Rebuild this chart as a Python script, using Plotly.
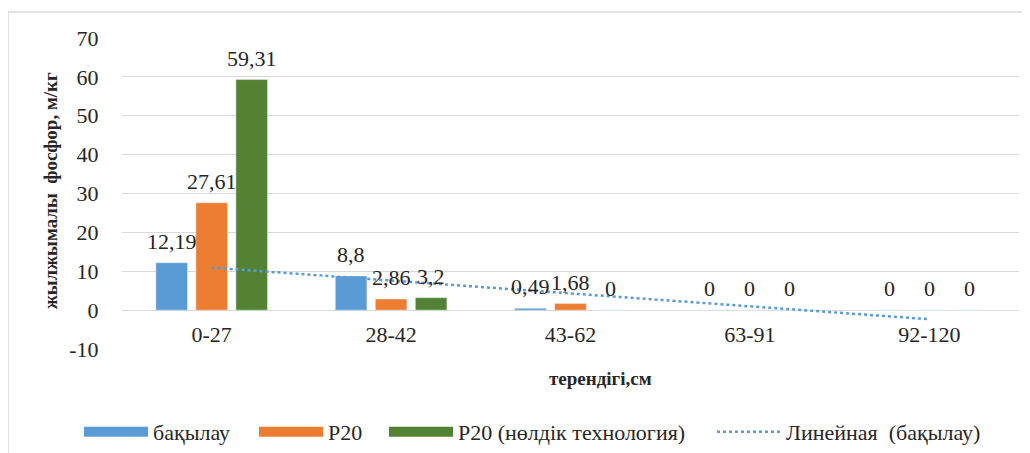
import numpy as np
import plotly.graph_objects as go

categories = ["0-27", "28-42", "43-62", "63-91", "92-120"]
bakylau = [12.19, 8.8, 0.49, 0, 0]
p20 = [27.61, 2.86, 1.68, 0, 0]
p20_zero = [59.31, 3.2, 0, 0, 0]
series_names = ["бақылау", "P20", "P20 (нөлдік технология)"]
trend_name = "Линейная  (бақылау)"
colors = ["#5b9bd5", "#ed7d31", "#548235"]
y_ticks = [-10, 0, 10, 20, 30, 40, 50, 60, 70]
y_ticktext = ["-10", "0", "10", "20", "30", "40", "50", "60", "70"]
y_title = "жылжымалы  фосфор, м/кг"
x_title = "терендігі,см"

OFF = 8  # page body margin
W, H = 1030 - OFF, 453 - OFF
ML, MT = 122 - OFF, 38 - OFF
MR = W - (1019 - OFF)
MB = H - (349 - OFF)
PW = W - ML - MR
PH = H - MT - MB
BARGAP = 0.331
FONT = "Liberation Serif, Times New Roman, serif"
TXT = "#262626"


def px(xs):
    return (xs - OFF - ML) / PW


def py(ys):
    return (MT + PH - (ys - OFF)) / PH


def fmt(v):
    return ("%g" % v).replace(".", ",")


fig = go.Figure()
all_series = [bakylau, p20, p20_zero]
for name, vals, col in zip(series_names, all_series, colors):
    fig.add_trace(go.Bar(x=categories, y=vals, name=name, marker_color=col,
                         showlegend=False))

# linear trend of the control series
xs = np.arange(1, len(categories) + 1)
k, b = np.polyfit(xs, bakylau, 1)
trend = k * xs + b
fig.add_trace(go.Scatter(x=categories, y=trend, mode="lines", showlegend=False,
                         line=dict(color="#5b9bd5", width=2.5, dash="dot")))

# legend entries, each in its own legend box
legend_ids = ["legend", "legend2", "legend3", "legend4"]
legend_x = [85, 260, 390, 718]
for name, col, lid in zip(series_names, colors, legend_ids[:3]):
    fig.add_trace(go.Scatter(x=[None], y=[None], mode="lines", name=name, legend=lid,
                             line=dict(color=col, width=10)))
fig.add_trace(go.Scatter(x=[None], y=[None], mode="lines", name=trend_name,
                         legend=legend_ids[3],
                         line=dict(color="#5b9bd5", width=2.5, dash="dot")))

# data labels
slot = PW / len(categories) * (1 - BARGAP) / 3
anns = []
for i, vals in enumerate(all_series):
    for c, v in zip(categories, vals):
        anns.append(dict(x=c, y=v, xref="x", yref="y", text=fmt(v), showarrow=False,
                         xshift=(i - 1) * slot, yshift=7, yanchor="bottom",
                         xanchor="center",
                         font=dict(family=FONT, size=22, color=TXT)))
anns.append(dict(x=px(600), y=py(378), xref="paper", yref="paper",
                 text="<b>" + x_title + "</b>", showarrow=False,
                 xanchor="center", yanchor="middle",
                 font=dict(family=FONT, size=19, color=TXT)))
anns.append(dict(x=px(50), y=py(191), xref="paper", yref="paper",
                 text="<b>" + y_title + "</b>", showarrow=False, textangle=-90,
                 xanchor="center", yanchor="middle",
                 font=dict(family=FONT, size=19, color=TXT)))

legends = {}
for lid, lx in zip(legend_ids, legend_x):
    legends[lid] = dict(orientation="h", x=px(lx - 6), xanchor="left",
                        y=py(432), yanchor="middle", bgcolor="rgba(0,0,0,0)",
                        font=dict(family=FONT, size=22, color=TXT), itemwidth=64)

fig.update_layout(
    width=W, height=H,
    margin=dict(l=ML, r=MR, t=MT, b=MB, autoexpand=False),
    plot_bgcolor="white", paper_bgcolor="white",
    barmode="group", bargap=BARGAP, bargroupgap=0.21,
    font=dict(family=FONT, size=22, color=TXT),
    annotations=anns,
    xaxis=dict(type="category", range=[-0.5, 4.5], showgrid=False, showline=False,
               anchor="free", position=10 / 80, ticks="outside", ticklen=4,
               tickcolor="rgba(0,0,0,0)", tickfont=dict(family=FONT, size=22, color=TXT),
               zeroline=False, automargin=False),
    yaxis=dict(range=[-10, 70], tickvals=y_ticks, ticktext=y_ticktext,
               showgrid=True, gridcolor="#d9d9d9",
               gridwidth=1.3, zeroline=True, zerolinecolor="#d9d9d9", zerolinewidth=1.3,
               ticks="outside", ticklen=18, tickcolor="rgba(0,0,0,0)",
               tickfont=dict(family=FONT, size=22, color=TXT), showline=False,
               automargin=False),
    shapes=[dict(type="rect", xref="paper", yref="paper",
                 x0=px(8), x1=px(1045), y0=py(470), y1=py(12),
                 line=dict(color="#d9d9d9", width=1.5), layer="below")],
    **legends,
)
fig.write_html("out.html")
